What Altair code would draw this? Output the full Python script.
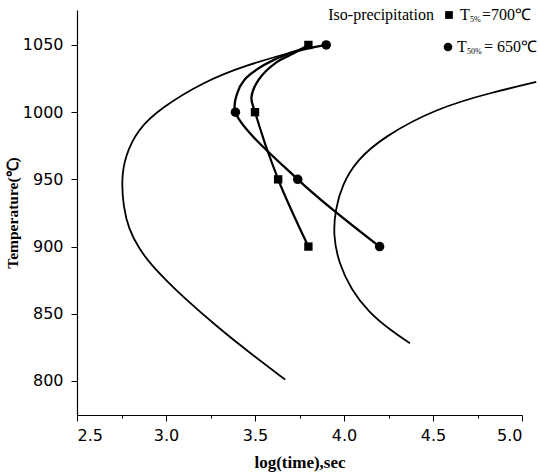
import altair as alt
import pandas as pd

# T5% = 700C iso-precipitation (squares)
t5_x = [3.80, 3.63, 3.50, 3.80]
t5_y = [900, 950, 1000, 1050]
t5_curve_x = [3.80, 3.63, 3.50, 3.48, 3.52, 3.62, 3.72, 3.80]
t5_curve_y = [900, 950, 1000, 1011, 1024, 1037, 1044, 1050]

# T50% = 650C iso-precipitation (circles)
t50_x = [4.20, 3.74, 3.39, 3.90]
t50_y = [900, 950, 1000, 1050]
t50_curve_x = [4.20, 3.74, 3.39, 3.40, 3.44, 3.55, 3.70, 3.90]
t50_curve_y = [900, 950, 1000, 1014, 1024, 1035, 1044, 1050]

# left C-curve
left_x = [3.78, 3.72, 3.45, 3.21, 2.97, 2.84, 2.77, 2.75, 2.76, 2.79, 2.85, 2.92, 3.00, 3.10, 3.29, 3.47, 3.67]
left_y = [1048, 1045, 1035, 1022.5, 1003, 987, 967, 950, 930, 913, 898, 886, 875, 862, 840, 821, 801]

# right C-curve
right_x = [5.08, 4.84, 4.52, 4.22, 4.07, 3.99, 3.95, 3.94, 3.97, 4.04, 4.14, 4.26, 4.37]
right_y = [1022.5, 1015, 1003, 981.5, 964, 946, 927, 908, 888, 868, 851, 838, 828]

x_ticks = [2.5, 2.75, 3.0, 3.25, 3.5, 3.75, 4.0, 4.25, 4.5, 4.75, 5.0]
y_ticks = [800, 825, 850, 875, 900, 925, 950, 975, 1000, 1025, 1050, 1075]

legend_title = "Iso-precipitation"
legend_t5 = ["T", "5%", "=700℃"]
legend_t50 = ["T", "50%", "= 650℃"]


def curve(xs, ys, name):
    return pd.DataFrame({"x": xs, "y": ys, "i": list(range(len(xs))), "s": name})


data_lines_df = pd.concat([
    curve(t5_curve_x, t5_curve_y, "t5"),
    curve(t50_curve_x, t50_curve_y, "t50"),
])
c_lines_df = pd.concat([
    curve(left_x, left_y, "left"),
    curve(right_x, right_y, "right"),
])
sq_df = pd.DataFrame({"x": t5_x, "y": t5_y})
ci_df = pd.DataFrame({"x": t50_x, "y": t50_y})

x_scale = alt.Scale(domain=[2.5, 5.0], nice=False, zero=False)
y_scale = alt.Scale(domain=[774.7, 1076], nice=False, zero=False)

x_axis = alt.Axis(
    values=x_ticks, format=".1f",
    labelExpr="(datum.value * 2) % 1 == 0 ? datum.label : ''",
    tickSize={"condition": {"test": "(datum.value * 2) % 1 == 0", "value": 6}, "value": 3},
    title="log(time),sec", grid=False,
    domainColor="black", tickColor="black", domainWidth=1.2,
    labelFont="DejaVu Sans", labelFontSize=16, labelColor="black", labelPadding=6,
    titleFont="Liberation Serif", titleFontSize=17, titleFontWeight="bold",
    titleColor="black", titlePadding=11,
)
y_axis = alt.Axis(
    values=y_ticks, format="d",
    labelExpr="datum.value % 50 == 0 ? datum.label : ''",
    tickSize={"condition": {"test": "datum.value % 50 == 0", "value": 6}, "value": 3},
    title="Temperature(℃)", grid=False,
    domainColor="black", tickColor="black", domainWidth=1.2,
    labelFont="DejaVu Sans", labelFontSize=16, labelColor="black", labelPadding=8,
    titleFont="Liberation Serif", titleFontSize=15.5, titleFontWeight="bold",
    titleColor="black", titlePadding=2,
)

data_lines = alt.Chart(data_lines_df).mark_line(
    color="black", strokeWidth=2.3, interpolate="catmull-rom", clip=False
).encode(
    x=alt.X("x:Q", scale=x_scale, axis=x_axis),
    y=alt.Y("y:Q", scale=y_scale, axis=y_axis),
    detail="s:N",
    order="i:Q",
)

c_lines = alt.Chart(c_lines_df).mark_line(
    color="black", strokeWidth=1.8, interpolate="basis", clip=False
).encode(x="x:Q", y="y:Q", detail="s:N", order="i:Q")

squares = alt.Chart(sq_df).mark_point(
    shape="square", filled=True, size=70, color="black", opacity=1
).encode(x="x:Q", y="y:Q")

circles = alt.Chart(ci_df).mark_circle(size=90, color="black", opacity=1).encode(
    x="x:Q", y="y:Q"
)

one = pd.DataFrame({"a": [0]})


def label(text, x, y, size, font="Liberation Serif", align="left"):
    return alt.Chart(one).mark_text(
        text=text, font=font, fontSize=size, align=align, baseline="middle", color="black"
    ).encode(x=alt.value(x), y=alt.value(y))


leg = [
    label(legend_title, 357, 5, 16, align="right"),
    alt.Chart(one).mark_point(shape="square", filled=True, size=60, color="black", opacity=1)
    .encode(x=alt.value(372), y=alt.value(5)),
    label(legend_t5[0], 383, 5, 16),
    label(legend_t5[1], 393, 10, 8),
    label(legend_t5[2], 405, 5, 16),
    alt.Chart(one).mark_circle(size=75, color="black", opacity=1)
    .encode(x=alt.value(371), y=alt.value(37)),
    label(legend_t50[0], 380, 37, 16),
    label(legend_t50[1], 390, 42, 8),
    label(legend_t50[2], 407, 37, 16),
]

chart = alt.layer(c_lines, data_lines, squares, circles, *leg).properties(
    width=445, height=405,
    autosize=alt.AutoSizeParams(type="none"),
    padding={"left": 77, "top": 10, "right": 18, "bottom": 61},
).configure_view(stroke=None)

chart.save("out.html", embed_options={"renderer": "svg", "actions": False})
